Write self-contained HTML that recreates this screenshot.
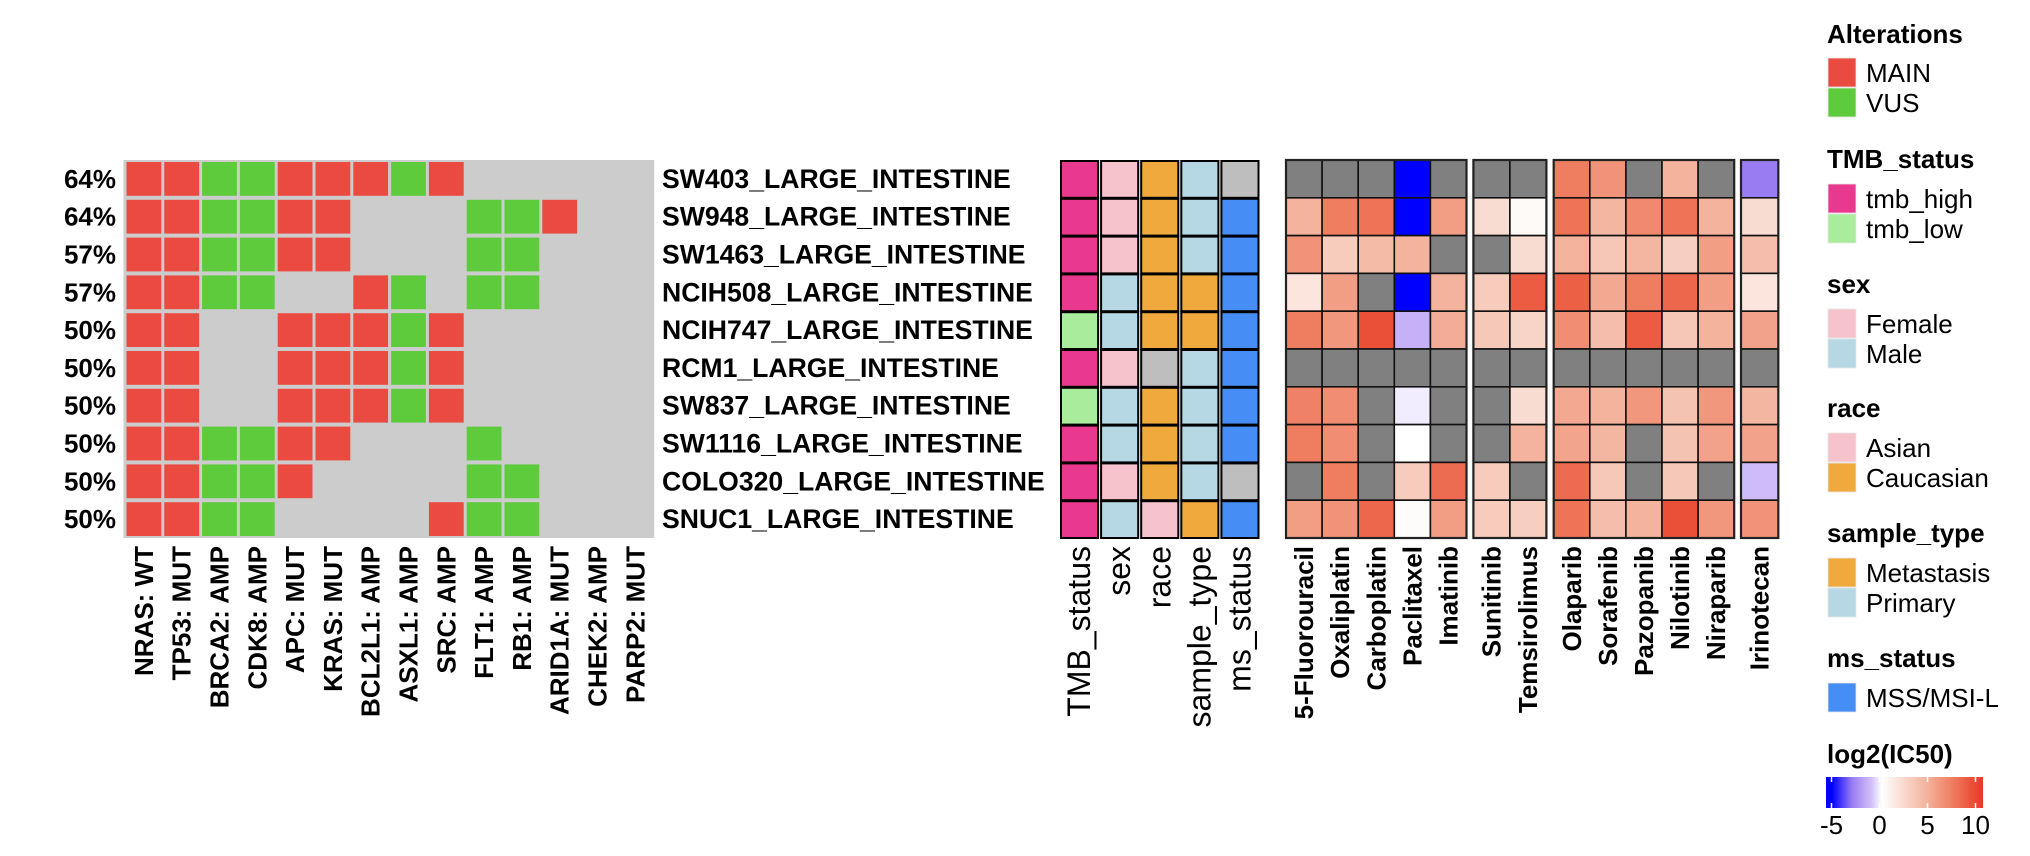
<!DOCTYPE html>
<html><head><meta charset="utf-8">
<style>
html,body{margin:0;padding:0;background:#fff;}
svg{display:block;font-family:"Liberation Sans",Arial,sans-serif;}
</style></head>
<body>
<svg id="chart" width="2030" height="856" viewBox="0 0 2030 856" xmlns="http://www.w3.org/2000/svg">
<defs>
<linearGradient id="ic50grad" x1="0" x2="1" y1="0" y2="0">
<stop offset="0" stop-color="#0000FF"/>
<stop offset="0.038" stop-color="#0000FF"/>
<stop offset="0.166" stop-color="#9A7CF2"/>
<stop offset="0.293" stop-color="#D4C2FA"/>
<stop offset="0.357" stop-color="#FFFFFF"/>
<stop offset="0.484" stop-color="#F9DCD1"/>
<stop offset="0.643" stop-color="#F3B39D"/>
<stop offset="0.803" stop-color="#EF7E61"/>
<stop offset="0.93" stop-color="#EA5038"/>
<stop offset="1" stop-color="#E8372A"/>
</linearGradient>
</defs>
<g id="main"></g>
</svg>
<script>
const samples = ["SW403_LARGE_INTESTINE","SW948_LARGE_INTESTINE","SW1463_LARGE_INTESTINE","NCIH508_LARGE_INTESTINE","NCIH747_LARGE_INTESTINE","RCM1_LARGE_INTESTINE","SW837_LARGE_INTESTINE","SW1116_LARGE_INTESTINE","COLO320_LARGE_INTESTINE","SNUC1_LARGE_INTESTINE"];
const percents = ["64%","64%","57%","57%","50%","50%","50%","50%","50%","50%"];
const genes = ["NRAS: WT","TP53: MUT","BRCA2: AMP","CDK8: AMP","APC: MUT","KRAS: MUT","BCL2L1: AMP","ASXL1: AMP","SRC: AMP","FLT1: AMP","RB1: AMP","ARID1A: MUT","CHEK2: AMP","PARP2: MUT"];
// 1 = MAIN, 2 = VUS, 0 = none
const alterations = [
 [1,1,2,2,1,1,1,2,1,0,0,0,0,0],
 [1,1,2,2,1,1,0,0,0,2,2,1,0,0],
 [1,1,2,2,1,1,0,0,0,2,2,0,0,0],
 [1,1,2,2,0,0,1,2,0,2,2,0,0,0],
 [1,1,0,0,1,1,1,2,1,0,0,0,0,0],
 [1,1,0,0,1,1,1,2,1,0,0,0,0,0],
 [1,1,0,0,1,1,1,2,1,0,0,0,0,0],
 [1,1,2,2,1,1,0,0,0,2,0,0,0,0],
 [1,1,2,2,1,0,0,0,0,2,2,0,0,0],
 [1,1,2,2,0,0,0,0,1,2,2,0,0,0]
];
const annoNames = ["TMB_status","sex","race","sample_type","ms_status"];
const tmbStatus = ["tmb_high","tmb_high","tmb_high","tmb_high","tmb_low","tmb_high","tmb_low","tmb_high","tmb_high","tmb_high"];
const sexValues = ["Female","Female","Female","Male","Male","Female","Male","Male","Female","Male"];
const raceValues = ["Caucasian","Caucasian","Caucasian","Caucasian","Caucasian",null,"Caucasian","Caucasian","Caucasian","Asian"];
const sampleTypes = ["Primary","Primary","Primary","Metastasis","Metastasis","Primary","Primary","Primary","Primary","Metastasis"];
const msStatus = [null,"MSS/MSI-L","MSS/MSI-L","MSS/MSI-L","MSS/MSI-L","MSS/MSI-L","MSS/MSI-L","MSS/MSI-L",null,"MSS/MSI-L"];
const drugGroups = [
 ["5-Fluorouracil","Oxaliplatin","Carboplatin","Paclitaxel","Imatinib"],
 ["Sunitinib","Temsirolimus"],
 ["Olaparib","Sorafenib","Pazopanib","Nilotinib","Niraparib"],
 ["Irinotecan"]
];
// log2(IC50); null = NA. columns follow drugGroups order flattened
const ic50 = [
 [null,null,null,-5,null, null,null, 7,6,null,4.5,null, -3],
 [4.5,7,7.5,-5,5.5, 2,0.3, 7.5,4.3,6.5,7.5,4.5, 2],
 [6,3,4,4.5,null, null,2, 4.5,3.3,4.3,2.8,5.5, 3.8],
 [1.5,5.5,null,-5,4.5, 3,8.5, 8.3,5,7,8,5.5, 1.5],
 [7,5.8,9,-1.5,4.8, 3.2,2.5, 6.3,3.8,8.5,3.3,4.5, 5.3],
 [null,null,null,null,null, null,null, null,null,null,null,null, null],
 [6.8,6.3,null,-0.3,null, null,2, 5,4.5,5.8,3.5,5.8, 4.3],
 [7,6.3,null,0,null, null,4.5, 5.2,4.3,null,3.5,5.3, 5.3],
 [null,7,null,3,7.8, 3,null, 7.8,3.2,null,3.2,null, -1.2],
 [5.5,6,8,0.2,5.5, 3,2.8, 7.5,3.8,4.5,9,5.8, 6]
];
const colorTicks = [-5,0,5,10];

const NS="http://www.w3.org/2000/svg";
const root=document.getElementById("main");
function mk(tag,attrs,parent){const e=document.createElementNS(NS,tag);for(const k in attrs)e.setAttribute(k,attrs[k]);(parent||root).appendChild(e);return e;}
function txt(str,attrs,parent){const e=mk("text",attrs,parent);e.textContent=str;return e;}

const TOP=160, ROWH=37.8;
function rowY(i){return TOP+i*ROWH;}
const FS=26;

// ----- alteration grid -----
const GX=125, COLW=37.8;
function colX(j){return GX+j*COLW;}
const grid=mk("g",{});


const bg=mk("rect",{x:GX-1.5,y:TOP,width:genes.length*COLW+1.5,height:samples.length*ROWH,fill:"#CCCCCC"},grid);


const altColors={1:"#EB4A40",2:"#5ECB3C"};
alterations.forEach((row,i)=>{row.forEach((v,j)=>{
 if(!v)return;
 const r=mk("rect",{x:colX(j)+1.5,y:rowY(i)+2,width:COLW-3,height:ROWH-4,fill:altColors[v]},grid);
 
 
});});
percents.forEach((p,i)=>{
 const t=txt(p,{x:116,y:rowY(i)+ROWH/2+9,"text-anchor":"end","font-size":FS,"font-weight":"bold"});
 
 
});
samples.forEach((s,i)=>{
 const t=txt(s,{x:662,y:rowY(i)+ROWH/2+9,"font-size":26.6,"font-weight":"bold"});
 
 
});
genes.forEach((g,j)=>{
 const cx=colX(j)+COLW/2+9;
 const t=txt(g,{x:cx,y:546,"text-anchor":"end","font-size":FS,"font-weight":"bold",transform:`rotate(-90 ${cx} 546)`});
 
 
});

// ----- annotations -----
const annoColors={tmb_high:"#E9398F",tmb_low:"#A8EC9C",Female:"#F6C3CD",Male:"#B5D8E4",Asian:"#F6C3CD",Caucasian:"#F0A93C",Metastasis:"#F0A93C",Primary:"#B5D8E4","MSS/MSI-L":"#468EF6"};
const annoData=[tmbStatus,sexValues,raceValues,sampleTypes,msStatus];
const AX=1060, AW=40.1;
annoData.forEach((col,j)=>{
 const x=AX+j*AW;
 col.forEach((v,i)=>{
  const r=mk("rect",{x:x+1,y:rowY(i)+1,width:AW-3,height:ROWH-1,fill:v?annoColors[v]:"#BEBEBE",stroke:"#000","stroke-width":2});
  
  
 });
 const cx=x+AW/2+10;
 const t=txt(annoNames[j],{x:cx,y:546,"text-anchor":"end","font-size":32,transform:`rotate(-90 ${cx} 546)`});
 
 
});

// ----- drug heatmap -----
function ic50Color(v){
 if(v===null)return "#808080";
 const stops=[[-5,[0,0,255]],[-3,[154,124,242]],[-1,[212,194,250]],[0,[255,255,255]],[2,[249,220,209]],[4.5,[243,179,157]],[7,[239,126,97]],[9,[234,80,56]],[10,[232,55,42]]];
 if(v<=stops[0][0])return "rgb(0,0,255)";
 for(let k=1;k<stops.length;k++){
  if(v<=stops[k][0]){
   const a=stops[k-1],b=stops[k],t=(v-a[0])/(b[0]-a[0]);
   const c=a[1].map((q,m)=>Math.round(q+(b[1][m]-q)*t));
   return `rgb(${c[0]},${c[1]},${c[2]})`;
  }
 }
 return "rgb(232,55,42)";
}
const groupStarts=[1286,1473.4,1553.7,1741];
const groupPitch=[36.1,36.5,36.1,37.3];
let colIdx=0;
drugGroups.forEach((grp,g)=>{
 const gx=groupStarts[g],pw=groupPitch[g];
 const gg=mk("g",{});
 
 
 grp.forEach((d,k)=>{
  const c=colIdx+k;
  const x=gx+k*pw;
  ic50.forEach((row,i)=>{
   const r=mk("rect",{x:x,y:rowY(i),width:pw,height:ROWH,fill:ic50Color(row[c]),stroke:"#111","stroke-width":1.6},gg);
   
   
  });
  const cx=x+pw/2+9;
  const t=txt(d,{x:cx,y:546,"text-anchor":"end","font-size":FS,"font-weight":"bold",transform:`rotate(-90 ${cx} 546)`});
  
  
 });
 const o=mk("rect",{x:gx,y:TOP,width:grp.length*pw,height:samples.length*ROWH,fill:"none",stroke:"#222","stroke-width":2.2},gg);
 
 
 colIdx+=grp.length;
});

// ----- legends -----
const LX=1827;
const legends=[
 {title:"Alterations",ty:43,sy:58,items:[["MAIN","#EB4A40"],["VUS","#5ECB3C"]]},
 {title:"TMB_status",ty:168,sy:184,items:[["tmb_high","#E9398F"],["tmb_low","#A8EC9C"]]},
 {title:"sex",ty:293,sy:309,items:[["Female","#F6C3CD"],["Male","#B5D8E4"]]},
 {title:"race",ty:417,sy:433,items:[["Asian","#F6C3CD"],["Caucasian","#F0A93C"]]},
 {title:"sample_type",ty:542,sy:558,items:[["Metastasis","#F0A93C"],["Primary","#B5D8E4"]]},
 {title:"ms_status",ty:667,sy:683,items:[["MSS/MSI-L","#468EF6"]]}
];
legends.forEach(L=>{
 const g=mk("g",{});
 
 
 const t=txt(L.title,{x:LX,y:L.ty,"font-size":FS,"font-weight":"bold"},g);
 
 
 L.items.forEach((it,k)=>{
  const y=L.sy+k*30;
  const r=mk("rect",{x:LX+1,y:y,width:28,height:29,fill:it[1],stroke:"#e6e6e6","stroke-width":0.8},g);
  
  
  const l=txt(it[0],{x:1866,y:y+24,"font-size":FS},g);
  
  
 });
});
const cg=mk("g",{});


const ct=txt("log2(IC50)",{x:LX,y:763,"font-size":FS,"font-weight":"bold"},cg);


const cb=mk("rect",{x:1826,y:777,width:157,height:31,fill:"url(#ic50grad)"},cg);


function cbX(v){return 1832+(v+5)*(48/5)-0.5;}
colorTicks.forEach(v=>{
 const x=cbX(v);
 mk("line",{x1:x,x2:x,y1:777,y2:782,stroke:"#fff","stroke-width":1.5},cg);
 mk("line",{x1:x,x2:x,y1:803,y2:808,stroke:"#fff","stroke-width":1.5},cg);
 const t=txt(String(v),{x:x,y:834,"text-anchor":"middle","font-size":FS},cg);
 
 
});
</script>
</body></html>
